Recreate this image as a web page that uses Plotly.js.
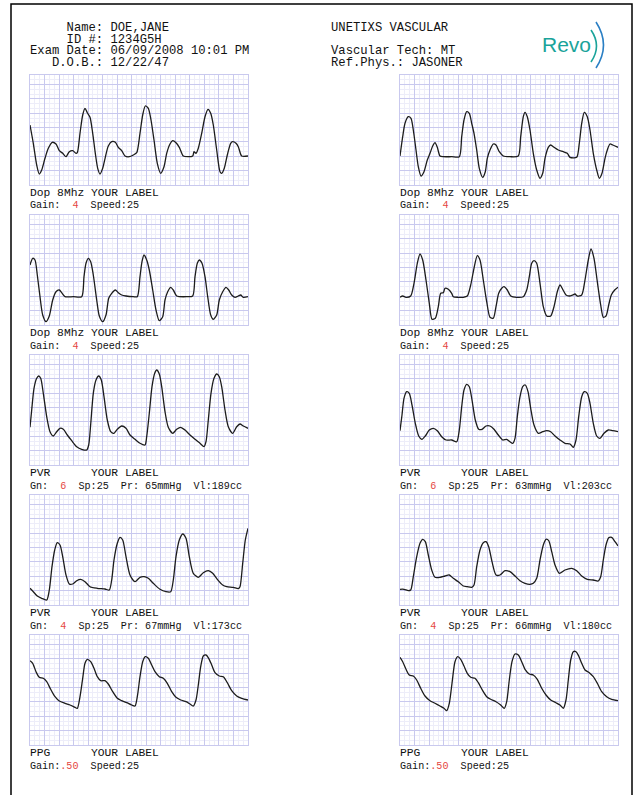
<!DOCTYPE html>
<html>
<head>
<meta charset="utf-8">
<script src="https://cdn.plot.ly/plotly-3.0.1.min.js"></script>
<style>html,body{margin:0;padding:0;background:#fff;}#chart{width:634px;height:795px;}</style>
</head>
<body>
<div id="chart"></div>
<script>
// ---------------- DATA (time in px-units across the strip, amplitude in px-units) ----------------
const dopL1_x = [0,3.3,6.7,9.3,11.7,15,18.3,22.3,26,29.3,32.7,36,39.3,42.7,46,47.3,50,52.7,55,57.3,60,62.7,65.3,67.7,70,72.7,75.3,78.3,81.7,85.3,88.3,91.7,95,99.3,103.3,106.7,110,112.7,115.3,118.3,121,124,127.3,130.7,134,136.7,140,142.7,146,149.3,153.3,158.3,162.7,164,166,168.3,171.7,175,178,180.7,183.3,186.7,190,191.7,194.3,197.3,200.7,202.7,206,208.3,211.7,218];
const dopL1_y = [60,41.7,20,11,15,26.7,36.7,42.7,41,34.3,31.7,28.3,33.3,34.3,31.7,32.3,51.7,70,76.7,72.3,67.7,51.7,31.7,16.7,11,16.7,27.7,39,43.3,42.7,37.7,34.3,29,28.3,30,32.3,51.7,70,79,76.7,65,45,21.7,11.7,18.3,31.7,41,44.3,42.3,37.7,29,28.3,29,33.3,31.7,36.7,51.7,68.3,75.7,71.7,60,35,13.3,11.7,16.7,30,41.7,43.3,41.7,38.3,29,29];

const dopR1_x = [0,2.7,5,8.3,11,13.3,16,18.3,21,24,27.3,30,32.7,35,37.3,40,43.3,51.7,59.3,61.7,64,66.7,69.3,71.7,74,76.7,79.3,82.7,85.3,87.3,90,93.3,96,99.3,103.3,110,118.3,120.7,123.3,125,127.3,130,133.3,136.7,140,142.7,145,148.3,150.7,154,158.3,163.3,167.3,170,176.7,179.3,181.7,184.3,187.3,190,193.3,196.7,199.3,202,205,207.3,210,212.7,218];
const dopR1_y = [29,48.3,61.7,68.3,66.7,55,35,18.3,9,13.3,25,31.7,39,42.3,37.7,29,28.3,28.3,28.3,48.3,65,73.3,71.7,61.7,51.7,35,16.7,7.7,13.3,26.7,35,41,40,33.3,29,28.3,29,48.3,68.3,72.7,68.3,55,31.7,15,6.7,11.7,26.7,37.7,40,37.7,35,33.3,31.7,27.7,27.7,41.7,61.7,72.7,68.3,55,31.7,15,6.7,11.7,26.7,35,41,40,37.7];

const dopL2_x = [0,2.7,5,7.3,10,12.7,16,19.3,22.7,26,29.3,31.7,35,43.3,51.7,54,56,58.3,60.7,63.3,66.7,69.3,72.7,76,78.7,81.7,85.3,88.3,91.7,96,103.3,107.3,110,112,114,116.7,119.3,122.7,126,129.3,132.7,135,137.7,140.7,143.3,146.7,156.7,162.7,165,167.3,169.3,172,175,177.7,180.7,183.3,186.7,189.3,192.7,196,198.7,201.7,205,208.3,210.7,213.3,218];
const dopL2_y = [60,66.7,65,50,28.3,10,3.3,9,25,33.3,35,32.3,28.3,28.3,28.3,48.3,61.7,66.7,63.3,50,25,9,3.3,10,26.7,31.7,35,32.3,30,29,28.3,28.3,48.3,63.3,70,65,55,35,15,4.3,8.3,25,33.3,37.7,35,29,28.3,29,48.3,61.7,65,61.7,48.3,28.3,10,5.7,10,25,33.3,37.7,35,30,27.7,29,30,27.7,28.3];

const dopR2_x = [0,2.7,6,10.7,14,17.3,20,22.7,26,29.3,32,35.3,38.3,40.7,43.3,45,48.3,51.7,53.3,58.3,63.3,67.3,70.7,74,77.3,80,83.3,86.7,90,93.3,96,98.7,101.7,104,107.3,110.7,116.7,123.3,126.7,129.3,131.7,134,136.7,140,143.3,146.7,150.7,154,157.3,160,162.7,166,169.3,172.7,175,177.3,181.7,185,188.3,191,194,197.3,200.7,203.3,206,208.7,211.3,214.7,218];
const dopR2_y = [27.7,29,27.7,29,41.7,61.7,71,65,45,21.7,5.7,6.7,18.3,31.7,32.3,36.7,35.7,31.7,28.3,27.7,27.7,29,40,56.7,69.3,65,45,23.3,7.7,6.7,18.3,31.7,36.7,38.3,35,29,27.7,28.3,35,48.3,61.7,64.3,61.7,41.7,18.3,9,9,18.3,33.3,40,35.7,30,29,30,31,29,30,45,65,76,66.7,43.3,20,7.7,9,20,30,35,37.7];

const pvrL1_x = [0,1.7,4,6.7,8.7,10.7,13.3,16.7,20,23.3,26.7,30,33.3,37.3,41.7,46.7,51.7,56.7,58.7,60.7,63.3,66,68.7,71.3,74,77.3,80.7,84,87.3,91.7,96,100,105,110,115,116.7,119.3,122,124.7,126.7,129.3,131.7,135,138.3,142.7,146.7,150.7,155,160,165,170,174,176,178.3,181,184,186.7,189.3,191.7,195,198.3,202.7,206.7,210,213.3,218];
const pvrL1_y = [37.7,55,76.7,86.7,89,86.7,71.7,48.3,33.3,29,33.3,36.7,35.7,30,24.3,18.3,15.7,15,20,40.7,71.7,85,89,85,68.3,45,33.3,31.7,35.7,39,36.7,30,25.7,21.7,20,28.3,51.7,78.3,91.7,95,91,78.3,53.3,37.7,31.7,35.7,37.7,35,30,25.7,21.7,18.3,23.3,45,71.7,86.7,91,88.3,78.3,55,38.3,31.7,38.3,41,39,36.7];

const pvrR1_x = [0,2,4,6.7,9.3,12,15.3,18.7,22,25.3,29.3,33.3,37.3,41.7,46,51.7,56.7,59.3,61.7,64,66.7,69.3,72,75.3,78.7,82,86,90,94,98.3,102.7,106.7,110,112.7,115,117.3,120,122.7,125.3,128,130.7,134,138.3,142.7,146.7,150.7,155,160,165,170,173.3,176,178.7,181.7,184.3,187.3,190,193.3,196.7,200,204,208.3,212.7,218];
const pvrR1_y = [34.3,50,66.7,73.3,71.7,60,41.7,29,25.7,29,35,36.7,34.3,28.3,25,25,23.3,35,58.3,75,80.7,78.3,65,45,35.7,35.7,39,39,35.7,30,25,25.7,23.3,21.7,26.7,48.3,68.3,78.3,80,73.3,56.7,40,31.7,33.3,34.3,33.3,29,25,21.7,21,17.7,25,48.3,68.3,73.3,71.7,61.7,41.7,29,26.7,31.7,35,34.3,33.3];

const pvrL2_x = [0,3.3,7.3,11.7,16.7,19.3,22,24.7,27.3,30,32.7,36,39.3,42.7,46.7,50.7,55,60,67.3,75,79.3,81.7,84,87.3,90,92.7,96,100,105,110,114,118.3,123.3,130,136,140.7,143.3,146,149.3,152.7,156,159.3,163.3,168.3,173.3,178.3,182.7,187.3,192.7,196.7,203.3,208.3,210,212.7,215.3,218];
const pvrL2_y = [16.7,13.3,9,6.7,5,15,38.3,55,62.3,60,48.3,30,21,21,24.3,25.7,23.3,18.3,16.7,16,15,25,45,61.7,67.7,65,48.3,30,23.3,27.7,28.3,26.7,21.7,15.7,13.3,13.3,25,48.3,65,71,66.7,48.3,31.7,27.7,32.3,34.3,31.7,25.7,20,18.3,17.7,16.3,18.3,41.7,65,76.7];

const pvrR2_x = [0,4,8.3,10.7,13.3,16.7,20,22.7,25.3,28.3,31.7,35,40,45,49.3,53.3,58.3,63.3,67.3,71.7,74,76.7,80,83.3,86,88.7,92,96,100,105,110,115,120,125,130,133.3,136.7,140,143.3,146,148.7,151.7,155,159.3,165,171.7,176.7,181.7,187.3,193.3,198.3,200.7,203.3,206,208.7,211.7,215,218];
const pvrR2_y = [15.7,15.7,14.3,15,28.3,48.3,61.7,65.7,63.3,50,35,27.7,27.7,29,30,26.7,23.3,19,18.3,17.7,20,38.3,55,62.3,63.3,58.3,43.3,30,30,34.3,33.3,29,24.3,21.7,20.7,21.7,26.7,45,60,65.7,64.3,53.3,40,31.7,35,36.7,34.3,29,25.7,25,24,28.3,45,60,67.3,67.7,63.3,59];

const ppgL_x = [0,2.7,6,9.3,13.3,16.7,20.7,25,29.3,35,40,45,47.3,50,52.7,55,57.3,60.7,64,67.3,70.7,75,78.3,82.7,87.3,91.7,96.7,101.7,105,107.3,110,112.7,115.3,118.3,121.7,125,129.3,133.3,137.3,141.7,146,150.7,156,160,163.3,166,168.3,170.7,173.3,176,178.7,181.7,185,189.3,193.3,197.3,201.7,206.7,211.7,218];
const ppgL_y = [84.3,81.7,73.3,67.7,66.7,63.3,55.7,48.3,44,41.7,40,37.7,36.7,48.3,66.7,81.7,85.7,83.3,76.7,68.3,64.3,64.3,61,53.3,46.7,44.3,42.3,40,39,48.3,68.3,83.3,88.3,86.7,80,73.3,68.3,66.7,61.7,53.3,47.7,45,43.3,41,39,45,60,78.3,89,90,86.7,80,72.3,69,68.3,62.3,54.3,49,46.7,45];

const ppgR_x = [0,2.7,6,9.3,13.3,16.7,20.7,25,30,35,40,44,46.7,49.3,52,55,57.7,60.7,64,67.3,70.7,75,78.3,82.7,86.7,90.7,96,100.7,104.3,106.7,109.3,112,115,118.3,121.7,125,129.3,133.3,137.3,141.7,146,150.7,156,160,163.3,166,168.3,170.7,173.3,176,178.7,181.7,185,189.3,193.3,197.3,201.7,206.7,211.7,218];
const ppgR_y = [87.7,83.3,75.7,70,69,65,56.7,49,44.3,41.7,39,36.7,34.3,41.7,61.7,83.3,88.3,85.7,79,71.7,67.7,66.7,62.3,54.3,48.3,45.7,43.3,40,36.7,43.3,65,83.3,91,90,83.3,75.7,71,70,65.7,56.7,50,45,42.3,40,36.7,45,65,85,93.3,93.3,89,81.7,75,72.3,68.3,61.7,53.3,48.3,45.7,44.3];

// label texts
const line1Texts = ["Dop 8Mhz YOUR LABEL","Dop 8Mhz YOUR LABEL","Dop 8Mhz YOUR LABEL","Dop 8Mhz YOUR LABEL",
                    "PVR      YOUR LABEL","PVR      YOUR LABEL","PVR      YOUR LABEL","PVR      YOUR LABEL",
                    "PPG      YOUR LABEL","PPG      YOUR LABEL"];
const gainPrefix = ["Gain:  ","Gain:  ","Gain:  ","Gain:  ","Gn:  ","Gn:  ","Gn:  ","Gn:  ","Gain:","Gain:"];
const gainValues = ["4","4","4","4","6","6","4","4",".50",".50"];
const gainSuffix = ["  Speed:25","  Speed:25","  Speed:25","  Speed:25",
                    "  Sp:25  Pr: 65mmHg  Vl:189cc","  Sp:25  Pr: 63mmHg  Vl:203cc",
                    "  Sp:25  Pr: 67mmHg  Vl:173cc","  Sp:25  Pr: 66mmHg  Vl:180cc",
                    "  Speed:25","  Speed:25"];
const headerLeft = ["     Name: DOE,JANE","     ID #: 1234G5H","Exam Date: 06/09/2008 10:01 PM","   D.O.B.: 12/22/47"];
const headerRight = ["UNETIXS VASCULAR","","Vascular Tech: MT","Ref.Phys.: JASONER"];

// ---------------- LAYOUT ----------------
const W = 634, H = 795;
const px = v => v / W;
const py = v => 1 - v / H;
const nb = s => s.replace(/ /g, "\u00A0");

const seriesX = [dopL1_x, dopR1_x, dopL2_x, dopR2_x, pvrL1_x, pvrR1_x, pvrL2_x, pvrR2_x, ppgL_x, ppgR_x];
const seriesY = [dopL1_y, dopR1_y, dopL2_y, dopR2_y, pvrL1_y, pvrR1_y, pvrL2_y, pvrR2_y, ppgL_y, ppgR_y];

const gridMajor = "#c9c9ee";
const gridMinor = "#ededf9";
const mono = "Liberation Mono, DejaVu Sans Mono, monospace";
const data = [];
const layout = {
  width: W, height: H,
  margin: {l: 0, r: 0, t: 0, b: 0},
  paper_bgcolor: "#ffffff", plot_bgcolor: "#ffffff",
  showlegend: false,
  annotations: [], shapes: []
};

for (let i = 0; i < 10; i++) {
  const row = Math.floor(i / 2), col = i % 2;
  const left = col === 0 ? 30 : 400;
  const top = 75 + 140 * row, bottom = 185 + 140 * row;
  const n = i + 1;
  const sfx = n === 1 ? "" : String(n);
  layout["xaxis" + sfx] = {
    domain: [px(left), px(left + 218)], range: [0, 218], anchor: "y" + sfx,
    tick0: 0, dtick: 218 / 15, showgrid: true, gridcolor: gridMajor, gridwidth: 1,
    minor: {dtick: 218 / 45, showgrid: true, gridcolor: gridMinor, gridwidth: 1},
    showticklabels: false, ticks: "", zeroline: false,
    showline: true, mirror: true, linecolor: gridMajor, linewidth: 1, fixedrange: true
  };
  layout["yaxis" + sfx] = {
    domain: [py(bottom), py(top)], range: [0, 110], anchor: "x" + sfx,
    tick0: 0, dtick: 14.35, showgrid: true, gridcolor: gridMajor, gridwidth: 1,
    minor: {dtick: 14.35 / 3, showgrid: true, gridcolor: gridMinor, gridwidth: 1},
    showticklabels: false, ticks: "", zeroline: false,
    showline: true, mirror: true, linecolor: gridMajor, linewidth: 1, fixedrange: true
  };
  data.push({
    type: "scatter", mode: "lines",
    x: seriesX[i], y: seriesY[i],
    xaxis: "x" + sfx, yaxis: "y" + sfx,
    line: {color: "#1c1c1c", width: 1.3, shape: "spline", smoothing: 0.7},
    hoverinfo: "skip"
  });
  layout.annotations.push({
    xref: "paper", yref: "paper", x: px(left - 1), y: py(bottom + 8),
    xanchor: "left", yanchor: "middle", showarrow: false, borderpad: 0,
    font: {family: mono, size: 11.3, color: "#111"},
    text: nb(line1Texts[i])
  });
  layout.annotations.push({
    xref: "paper", yref: "paper", x: px(left - 1), y: py(bottom + 21),
    xanchor: "left", yanchor: "middle", showarrow: false, borderpad: 0,
    font: {family: mono, size: 10.1, color: "#111"},
    text: nb(gainPrefix[i]) + '<span style="color:#e5473f">' + gainValues[i] + '</span>' + nb(gainSuffix[i])
  });
}

// header
const hdrFont = {family: mono, size: 12.2, color: "#111"};
const hdrY = [28, 40, 51.5, 63];
headerLeft.forEach((t, k) => {
  layout.annotations.push({xref: "paper", yref: "paper", x: px(29), y: py(hdrY[k]),
    xanchor: "left", yanchor: "middle", showarrow: false, borderpad: 0, font: hdrFont, text: nb(t)});
});
headerRight.forEach((t, k) => {
  if (!t) return;
  layout.annotations.push({xref: "paper", yref: "paper", x: px(330), y: py(hdrY[k]),
    xanchor: "left", yanchor: "middle", showarrow: false, borderpad: 0, font: hdrFont, text: nb(t)});
});
// Revo logo
layout.annotations.push({xref: "paper", yref: "paper", x: px(566), y: py(45),
  xanchor: "center", yanchor: "middle", showarrow: false, borderpad: 0,
  font: {family: "Liberation Sans, Arial, sans-serif", size: 21, color: "#1aa39a"}, text: "Revo"});
const arc = (x0, y0, xc, yc, x1, y1) => `M ${px(x0)},${py(y0)} Q ${px(xc)},${py(yc)} ${px(x1)},${py(y1)}`;
layout.shapes.push({type: "path", xref: "paper", yref: "paper", path: arc(591, 30, 602, 46, 591, 62), line: {color: "#1aa39a", width: 1.6}});
layout.shapes.push({type: "path", xref: "paper", yref: "paper", path: arc(596, 22, 611, 45, 596, 68), line: {color: "#2a7fc4", width: 1.6}});
// page border
layout.shapes.push({type: "rect", xref: "paper", yref: "paper", x0: px(11), x1: px(632), y0: -0.05, y1: py(4),
  line: {color: "#000", width: 1.5}, fillcolor: "rgba(0,0,0,0)"});

Plotly.newPlot("chart", data, layout, {staticPlot: true, displayModeBar: false});
</script>
</body>
</html>
